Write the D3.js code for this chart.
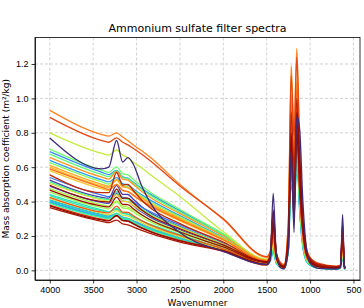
<!DOCTYPE html>
<html lang="en">
<head>
  <meta charset="UTF-8">
  <title>Ammonium sulfate filter spectra</title>
  <script src="https://d3js.org/d3.v7.min.js"></script>
  <style>
    body { margin: 0; background: #fff; }
    svg { font-family: "DejaVu Sans", sans-serif; display: block; }
    .grid line { stroke: #c8c8c8; stroke-width: 0.8; stroke-dasharray: 3,2; }
    .axis path, .axis line { stroke: #000; stroke-width: 0.8; }
    .axis text { font-size: 9px; fill: #000; }
  </style>
</head>
<body>
  <svg width="364" height="308"></svg>
  <script>
    const wavenumbers = [4000, 3400, 3320, 3230, 3160, 3100, 3040, 2940, 2850, 2500, 2000, 1500,
      1460, 1425, 1390, 1340, 1300, 1250, 1218, 1185, 1153, 1120, 1085, 1045, 1000, 900, 700, 650, 625, 605, 595];

    // one array per filter, in colormap order
    const spec00 = [0.77, 0.59, 0.60, 0.755, 0.63, 0.655, 0.62, 0.49, 0.40, 0.22, 0.11, 0.035, 0.06, 0.447, 0.10, 0.015, 0.008, 0.12, 0.70, 0.22, 0.90, 0.82, 0.42, 0.14, 0.04, 0.012, 0.008, 0.015, 0.325, 0.02, 0.01];
    const spec01 = [0.525, 0.425, 0.42, 0.494, 0.442, 0.441, 0.415, 0.37, 0.338, 0.254, 0.152, 0.045, 0.065, 0.24, 0.07, 0.02, 0.012, 0.14, 0.66, 0.40, 0.86, 0.68, 0.30, 0.10, 0.04, 0.015, 0.01, 0.018, 0.22, 0.02, 0.01];
    const spec02 = [0.49, 0.395, 0.389, 0.446, 0.402, 0.40, 0.377, 0.339, 0.311, 0.236, 0.143, 0.045, 0.07, 0.20, 0.065, 0.022, 0.015, 0.15, 0.74, 0.45, 0.92, 0.64, 0.26, 0.09, 0.04, 0.02, 0.012, 0.02, 0.18, 0.02, 0.012];
    const spec03 = [0.40, 0.315, 0.308, 0.331, 0.304, 0.301, 0.286, 0.261, 0.242, 0.184, 0.12, 0.035, 0.058, 0.14, 0.045, 0.018, 0.013, 0.126, 0.66, 0.45, 0.72, 0.36, 0.15, 0.058, 0.032, 0.016, 0.009, 0.014, 0.10, 0.014, 0.009];
    const spec04 = [0.54, 0.438, 0.429, 0.457, 0.424, 0.419, 0.40, 0.367, 0.343, 0.264, 0.16, 0.05, 0.072, 0.165, 0.055, 0.022, 0.016, 0.154, 0.80, 0.52, 0.86, 0.43, 0.18, 0.072, 0.038, 0.019, 0.011, 0.016, 0.12, 0.016, 0.011];
    const spec05 = [0.69, 0.57, 0.557, 0.581, 0.544, 0.536, 0.514, 0.476, 0.446, 0.347, 0.209, 0.06, 0.085, 0.195, 0.065, 0.026, 0.02, 0.182, 0.92, 0.60, 1.00, 0.50, 0.215, 0.085, 0.046, 0.023, 0.013, 0.02, 0.14, 0.02, 0.013];
    const spec06 = [0.64, 0.526, 0.514, 0.539, 0.504, 0.496, 0.475, 0.439, 0.411, 0.318, 0.191, 0.055, 0.08, 0.18, 0.06, 0.024, 0.018, 0.168, 0.86, 0.56, 0.93, 0.46, 0.20, 0.078, 0.042, 0.021, 0.012, 0.018, 0.13, 0.018, 0.012];
    const spec07 = [0.41, 0.325, 0.316, 0.33, 0.309, 0.303, 0.29, 0.267, 0.25, 0.192, 0.127, 0.04, 0.062, 0.13, 0.045, 0.018, 0.013, 0.13, 0.62, 0.42, 0.74, 0.37, 0.16, 0.06, 0.032, 0.016, 0.009, 0.014, 0.09, 0.014, 0.009];
    const spec08 = [0.395, 0.312, 0.304, 0.319, 0.297, 0.291, 0.279, 0.256, 0.24, 0.185, 0.123, 0.04, 0.06, 0.12, 0.042, 0.017, 0.012, 0.118, 0.60, 0.40, 0.66, 0.34, 0.14, 0.055, 0.03, 0.015, 0.008, 0.013, 0.09, 0.013, 0.008];
    const spec09 = [0.405, 0.319, 0.31, 0.315, 0.297, 0.29, 0.278, 0.258, 0.242, 0.187, 0.122, 0.035, 0.05, 0.10, 0.045, 0.02, 0.015, 0.12, 0.50, 0.40, 0.56, 0.45, 0.22, 0.07, 0.03, 0.012, 0.008, 0.012, 0.10, 0.012, 0.008];
    const spec10 = [0.44, 0.351, 0.341, 0.355, 0.332, 0.325, 0.311, 0.287, 0.269, 0.208, 0.125, 0.04, 0.058, 0.11, 0.045, 0.018, 0.014, 0.12, 0.56, 0.40, 0.62, 0.42, 0.20, 0.065, 0.03, 0.013, 0.008, 0.012, 0.11, 0.012, 0.008];
    const spec11 = [0.435, 0.346, 0.339, 0.36, 0.333, 0.329, 0.313, 0.288, 0.267, 0.205, 0.124, 0.04, 0.062, 0.135, 0.045, 0.018, 0.013, 0.126, 0.66, 0.44, 0.72, 0.36, 0.15, 0.058, 0.032, 0.016, 0.009, 0.014, 0.10, 0.014, 0.009];
    const spec12 = [0.39, 0.307, 0.30, 0.333, 0.303, 0.299, 0.284, 0.256, 0.237, 0.179, 0.118, 0.035, 0.06, 0.15, 0.05, 0.02, 0.015, 0.14, 0.72, 0.48, 0.80, 0.40, 0.165, 0.065, 0.035, 0.018, 0.01, 0.015, 0.11, 0.015, 0.01];
    const spec13 = [0.515, 0.417, 0.411, 0.458, 0.418, 0.414, 0.392, 0.356, 0.329, 0.252, 0.153, 0.05, 0.075, 0.18, 0.06, 0.024, 0.018, 0.168, 0.86, 0.55, 0.94, 0.46, 0.20, 0.078, 0.042, 0.021, 0.012, 0.018, 0.13, 0.018, 0.012];
    const spec14 = [0.676, 0.557, 0.545, 0.579, 0.54, 0.533, 0.509, 0.47, 0.439, 0.339, 0.205, 0.06, 0.085, 0.19, 0.065, 0.026, 0.02, 0.19, 0.95, 0.62, 1.03, 0.52, 0.22, 0.085, 0.046, 0.023, 0.013, 0.02, 0.13, 0.02, 0.013];
    const spec15 = [0.705, 0.582, 0.57, 0.602, 0.562, 0.555, 0.53, 0.49, 0.457, 0.354, 0.213, 0.06, 0.09, 0.21, 0.07, 0.028, 0.021, 0.196, 0.96, 0.64, 1.02, 0.54, 0.23, 0.09, 0.049, 0.025, 0.014, 0.021, 0.15, 0.021, 0.014];
    const spec16 = [0.626, 0.514, 0.502, 0.528, 0.493, 0.486, 0.466, 0.43, 0.402, 0.311, 0.187, 0.055, 0.08, 0.18, 0.062, 0.025, 0.019, 0.174, 0.88, 0.58, 0.97, 0.48, 0.205, 0.08, 0.043, 0.022, 0.012, 0.019, 0.13, 0.019, 0.012];
    const spec17 = [0.455, 0.365, 0.358, 0.398, 0.363, 0.359, 0.341, 0.309, 0.285, 0.218, 0.133, 0.045, 0.068, 0.165, 0.055, 0.022, 0.016, 0.154, 0.80, 0.52, 0.88, 0.43, 0.18, 0.072, 0.038, 0.019, 0.011, 0.016, 0.12, 0.016, 0.011];
    const spec18 = [0.475, 0.382, 0.374, 0.404, 0.373, 0.368, 0.351, 0.321, 0.298, 0.228, 0.139, 0.045, 0.07, 0.18, 0.06, 0.024, 0.018, 0.17, 0.88, 0.58, 0.98, 0.48, 0.20, 0.078, 0.042, 0.021, 0.012, 0.018, 0.12, 0.018, 0.012];
    const spec19 = [0.80, 0.68, 0.67, 0.70, 0.67, 0.655, 0.63, 0.595, 0.56, 0.43, 0.225, 0.065, 0.08, 0.22, 0.08, 0.03, 0.02, 0.22, 0.98, 0.70, 1.06, 0.62, 0.28, 0.11, 0.055, 0.025, 0.015, 0.02, 0.12, 0.02, 0.015];
    const spec20 = [0.418, 0.332, 0.324, 0.347, 0.321, 0.316, 0.301, 0.276, 0.256, 0.196, 0.119, 0.04, 0.062, 0.16, 0.055, 0.022, 0.016, 0.154, 0.78, 0.50, 0.85, 0.42, 0.18, 0.072, 0.038, 0.019, 0.011, 0.016, 0.11, 0.016, 0.011];
    const spec21 = [0.505, 0.409, 0.401, 0.44, 0.403, 0.399, 0.379, 0.346, 0.321, 0.247, 0.151, 0.05, 0.075, 0.185, 0.062, 0.025, 0.019, 0.174, 0.88, 0.57, 0.96, 0.48, 0.205, 0.08, 0.043, 0.022, 0.012, 0.019, 0.13, 0.019, 0.012];
    const spec22 = [0.58, 0.474, 0.464, 0.501, 0.464, 0.458, 0.436, 0.40, 0.373, 0.288, 0.175, 0.055, 0.082, 0.20, 0.068, 0.027, 0.02, 0.19, 0.94, 0.62, 1.02, 0.52, 0.224, 0.088, 0.048, 0.024, 0.014, 0.02, 0.15, 0.02, 0.014];
    const spec23 = [0.60, 0.491, 0.482, 0.527, 0.485, 0.481, 0.458, 0.418, 0.388, 0.298, 0.181, 0.055, 0.085, 0.21, 0.07, 0.028, 0.021, 0.196, 0.96, 0.64, 1.04, 0.54, 0.23, 0.09, 0.049, 0.025, 0.014, 0.021, 0.15, 0.021, 0.014];
    const spec24 = [0.61, 0.50, 0.489, 0.525, 0.487, 0.481, 0.459, 0.422, 0.393, 0.303, 0.183, 0.055, 0.085, 0.215, 0.072, 0.029, 0.022, 0.20, 0.99, 0.66, 1.07, 0.55, 0.24, 0.094, 0.05, 0.025, 0.014, 0.022, 0.16, 0.022, 0.014];
    const spec25 = [0.657, 0.542, 0.531, 0.574, 0.531, 0.525, 0.501, 0.459, 0.427, 0.33, 0.20, 0.06, 0.09, 0.225, 0.075, 0.03, 0.023, 0.21, 1.02, 0.68, 1.10, 0.58, 0.25, 0.098, 0.053, 0.026, 0.015, 0.023, 0.165, 0.023, 0.015];
    const spec26 = [0.93, 0.79, 0.78, 0.80, 0.775, 0.755, 0.73, 0.695, 0.66, 0.50, 0.295, 0.075, 0.10, 0.28, 0.10, 0.04, 0.03, 0.30, 1.19, 0.80, 1.29, 0.72, 0.32, 0.13, 0.07, 0.035, 0.02, 0.03, 0.20, 0.03, 0.02];
    const spec27 = [0.59, 0.483, 0.471, 0.499, 0.465, 0.458, 0.439, 0.404, 0.378, 0.293, 0.178, 0.055, 0.08, 0.20, 0.068, 0.028, 0.02, 0.19, 0.97, 0.64, 1.05, 0.54, 0.23, 0.09, 0.049, 0.025, 0.014, 0.021, 0.16, 0.021, 0.014];
    const spec28 = [0.425, 0.339, 0.334, 0.374, 0.339, 0.337, 0.319, 0.289, 0.266, 0.203, 0.125, 0.045, 0.07, 0.20, 0.065, 0.025, 0.018, 0.17, 0.86, 0.55, 0.94, 0.46, 0.20, 0.08, 0.045, 0.022, 0.014, 0.02, 0.17, 0.02, 0.012];
    const spec29 = [0.89, 0.755, 0.745, 0.77, 0.745, 0.73, 0.71, 0.675, 0.64, 0.49, 0.30, 0.08, 0.11, 0.33, 0.11, 0.045, 0.035, 0.28, 1.13, 0.78, 1.24, 0.70, 0.33, 0.14, 0.075, 0.04, 0.025, 0.03, 0.26, 0.03, 0.02];
    const spec30 = [0.38, 0.298, 0.291, 0.315, 0.289, 0.285, 0.271, 0.247, 0.228, 0.174, 0.116, 0.035, 0.07, 0.30, 0.09, 0.03, 0.025, 0.19, 0.78, 0.50, 0.86, 0.46, 0.23, 0.11, 0.065, 0.03, 0.02, 0.025, 0.22, 0.025, 0.015];
    const spec31 = [0.555, 0.452, 0.452, 0.569, 0.496, 0.50, 0.466, 0.408, 0.367, 0.272, 0.164, 0.05, 0.09, 0.33, 0.10, 0.035, 0.025, 0.22, 0.92, 0.60, 1.00, 0.56, 0.26, 0.11, 0.065, 0.03, 0.02, 0.025, 0.24, 0.025, 0.015];
    const spec32 = [0.365, 0.285, 0.277, 0.292, 0.27, 0.265, 0.253, 0.232, 0.216, 0.164, 0.11, 0.03, 0.06, 0.25, 0.08, 0.03, 0.025, 0.20, 0.72, 0.48, 0.80, 0.46, 0.24, 0.12, 0.07, 0.035, 0.022, 0.025, 0.20, 0.025, 0.015];
    const spec33 = [0.466, 0.374, 0.369, 0.426, 0.384, 0.382, 0.36, 0.323, 0.296, 0.223, 0.136, 0.045, 0.075, 0.26, 0.08, 0.025, 0.018, 0.16, 0.74, 0.28, 0.86, 0.60, 0.26, 0.10, 0.05, 0.02, 0.012, 0.02, 0.23, 0.02, 0.012];
    const spec34 = [0.495, 0.40, 0.397, 0.472, 0.419, 0.42, 0.394, 0.351, 0.32, 0.242, 0.148, 0.05, 0.08, 0.35, 0.10, 0.03, 0.02, 0.18, 0.80, 0.32, 0.92, 0.66, 0.30, 0.11, 0.055, 0.022, 0.013, 0.022, 0.27, 0.022, 0.013];
    const spec35 = [0.375, 0.293, 0.288, 0.32, 0.291, 0.288, 0.272, 0.246, 0.227, 0.171, 0.115, 0.035, 0.065, 0.28, 0.085, 0.025, 0.02, 0.17, 0.70, 0.30, 0.80, 0.55, 0.26, 0.10, 0.055, 0.025, 0.015, 0.02, 0.21, 0.02, 0.012];

    const spectra = [spec00, spec01, spec02, spec03, spec04, spec05, spec06, spec07, spec08, spec09,
      spec10, spec11, spec12, spec13, spec14, spec15, spec16, spec17, spec18, spec19,
      spec20, spec21, spec22, spec23, spec24, spec25, spec26, spec27, spec28, spec29,
      spec30, spec31, spec32, spec33, spec34, spec35];

    const xTicks = [4000, 3500, 3000, 2500, 2000, 1500, 1000, 500];
    const yTicks = [0.0, 0.2, 0.4, 0.6, 0.8, 1.0, 1.2];

    const svg = d3.select("svg");
    const margin = { top: 37.5, right: 4, bottom: 28, left: 35 };
    const W = +svg.attr("width"), H = +svg.attr("height");
    const innerW = W - margin.left - margin.right;
    const innerH = H - margin.top - margin.bottom;

    // matplotlib-style 5% padding around the data
    const xExt = d3.extent(wavenumbers);
    const xPad = (xExt[1] - xExt[0]) * 0.05;
    const yMin = d3.min(spectra, s => d3.min(s));
    const yMax = d3.max(spectra, s => d3.max(s));
    const yPad = (yMax - yMin) * 0.05;

    const x = d3.scaleLinear()
      .domain([xExt[1] + xPad, xExt[0] - xPad])
      .range([0, innerW]);
    const y = d3.scaleLinear()
      .domain([yMin - yPad, yMax + yPad])
      .range([innerH, 0]);

    // turbo colormap, starting past d3's near-black end so the first one reads purple
    const color = i => d3.interpolateTurbo(0.035 + 0.965 * i / (spectra.length - 1));

    const g = svg.append("g").attr("transform", `translate(${margin.left},${margin.top})`);

    // dashed grid
    const grid = g.append("g").attr("class", "grid");
    grid.selectAll("line.v").data(xTicks).enter().append("line")
      .attr("class", "v")
      .attr("x1", d => x(d)).attr("x2", d => x(d))
      .attr("y1", 0).attr("y2", innerH);
    grid.selectAll("line.h").data(yTicks).enter().append("line")
      .attr("class", "h")
      .attr("x1", 0).attr("x2", innerW)
      .attr("y1", d => y(d)).attr("y2", d => y(d));

    const line = d3.line()
      .x((d, i) => x(wavenumbers[i]))
      .y(d => y(d))
      .curve(d3.curveMonotoneX);

    // plot in order, but the dark purple filter goes on top
    const order = d3.range(1, spectra.length).concat([0]);
    g.append("g").selectAll("path")
      .data(order)
      .enter()
      .append("path")
      .attr("fill", "none")
      .attr("stroke", i => color(i))
      .attr("stroke-width", 1.3)
      .attr("stroke-linejoin", "round")
      .attr("d", i => line(spectra[i]));

    // axes
    g.append("g").attr("class", "axis")
      .attr("transform", `translate(0,${innerH})`)
      .call(d3.axisBottom(x).tickValues(xTicks).tickFormat(d3.format("d"))
        .tickSize(3.5).tickSizeOuter(0).tickPadding(3));
    g.append("g").attr("class", "axis")
      .call(d3.axisLeft(y).tickValues(yTicks).tickFormat(d3.format(".1f"))
        .tickSize(3.5).tickSizeOuter(0).tickPadding(3));

    // frame
    g.append("rect")
      .attr("width", innerW).attr("height", innerH)
      .attr("fill", "none").attr("stroke", "#000").attr("stroke-width", 0.8);

    svg.append("text")
      .attr("x", margin.left + innerW / 2).attr("y", 32)
      .attr("text-anchor", "middle").attr("font-size", "11px")
      .text("Ammonium sulfate filter spectra");

    svg.append("text")
      .attr("x", margin.left + innerW / 2).attr("y", 305.5)
      .attr("text-anchor", "middle").attr("font-size", "9px")
      .text("Wavenumner");

    svg.append("text")
      .attr("transform", `translate(9,${margin.top + innerH / 2}) rotate(-90)`)
      .attr("text-anchor", "middle").attr("font-size", "9px")
      .text("Mass absorption coefficient (m²/kg)");
  </script>
</body>
</html>
